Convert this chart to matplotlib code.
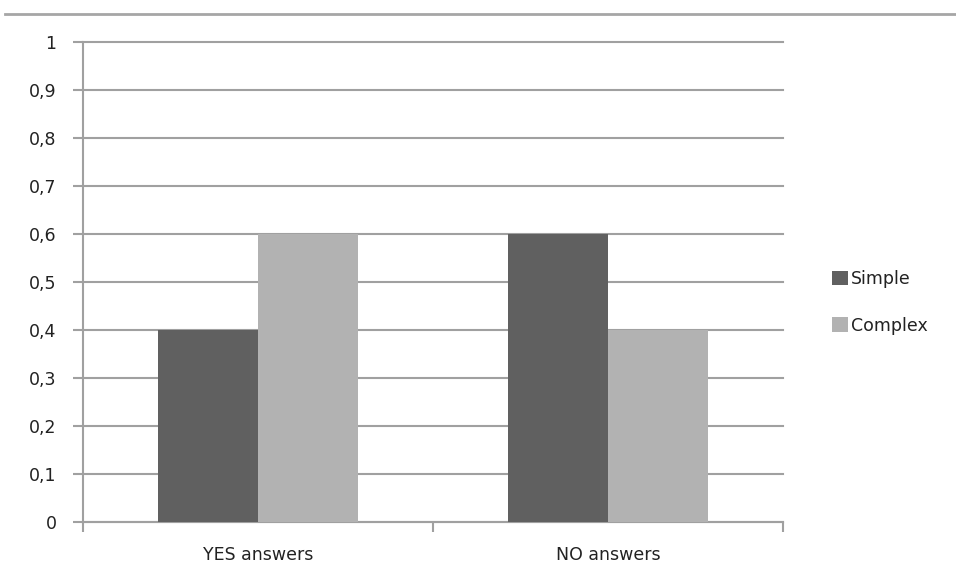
import matplotlib.pyplot as plt
import numpy as np
from matplotlib.lines import Line2D

# data
categories = ['YES answers', 'NO answers']
simple = [0.4, 0.6]
complex_ = [0.6, 0.4]
yticks = [0, 0.1, 0.2, 0.3, 0.4, 0.5, 0.6, 0.7, 0.8, 0.9, 1]

plt.rcParams['font.family'] = ['DejaVu Sans']

grid_col = '#a0a0a0'
txt_col = '#222222'
fs = 12.5
fig = plt.figure(figsize=(9.56, 5.83), dpi=100)
ax = fig.add_axes([0.0868, 0.1046, 0.7322, 0.8234])

x = np.arange(len(categories))
w = 100 / 350
ax.bar(x - w / 2, simple, w, color='#606060', label='Simple', zorder=3)
ax.bar(x + w / 2, complex_, w, color='#b2b2b2', label='Complex', zorder=3)

ax.set_xlim(-0.5, len(categories) - 0.5)
ax.set_ylim(0, 1)
ax.set_yticks(yticks)
ax.set_yticklabels(['1' if v == 1 else ('0' if v == 0 else f'{v:.1f}'.replace('.', ',')) for v in yticks])
ax.set_xticks(x)
ax.set_xticklabels(categories)
ax.set_xticks(np.arange(len(categories) + 1) - 0.5, minor=True)

ax.yaxis.grid(True, color=grid_col, linewidth=1.5, zorder=0)
for gl in ax.get_ygridlines():
    gl.set_clip_on(False)
ax.tick_params(axis='y', length=7, width=1.5, color=grid_col, labelsize=fs, labelcolor=txt_col, pad=12)
ax.tick_params(axis='x', which='major', length=0, labelsize=fs, labelcolor=txt_col, pad=17)
ax.tick_params(axis='x', which='minor', length=7, width=1.5, color=grid_col)

for s in ['top', 'right']:
    ax.spines[s].set_visible(False)
for s in ['left', 'bottom']:
    ax.spines[s].set_color(grid_col)
    ax.spines[s].set_linewidth(1.5)

# top separator line
fig.add_artist(Line2D([0.005, 1.0], [0.976, 0.976], color='#a6a6a6', linewidth=2, transform=fig.transFigure))

leg = fig.legend(loc='upper left', bbox_to_anchor=(0.863, 0.549), frameon=False,
                 handlelength=0.9, handleheight=0.9, handletextpad=0.2,
                 labelspacing=1.65, fontsize=fs, borderaxespad=0)
for t in leg.get_texts():
    t.set_color(txt_col)

fig.savefig('out.png', dpi=100)
